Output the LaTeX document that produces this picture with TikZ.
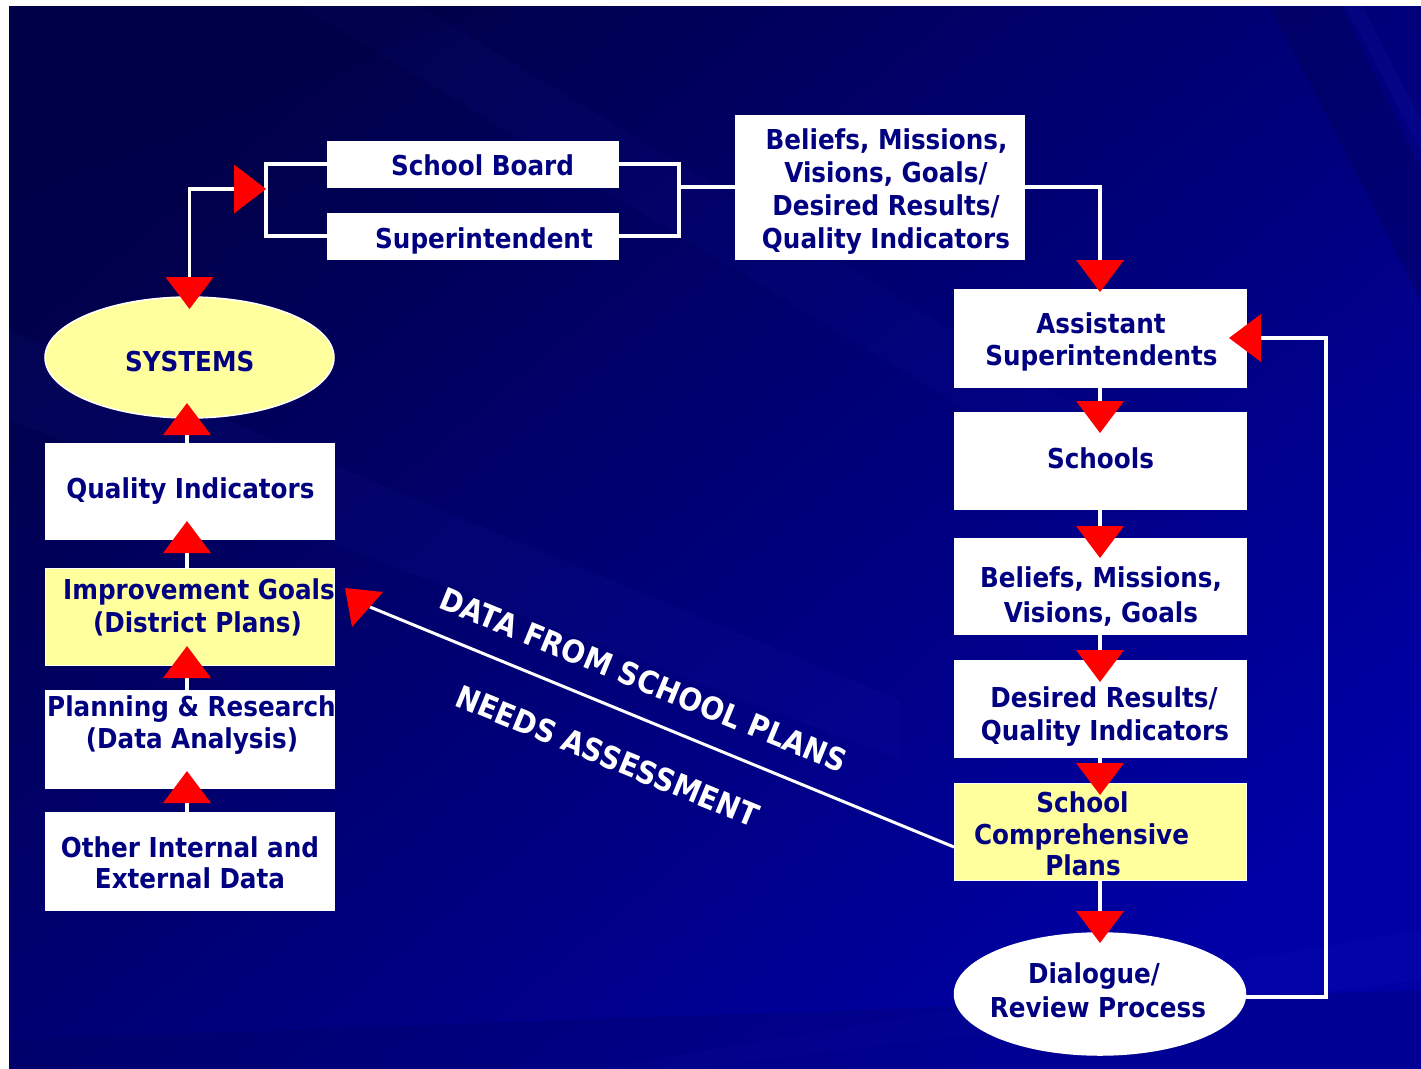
\documentclass[tikz,border=0pt]{standalone}
\usepackage{fontspec}
\newfontfamily\dfont{DejaVu Sans Condensed Bold}
\usetikzlibrary{arrows.meta,shapes.geometric,calc}
\definecolor{navy}{HTML}{000080}
\definecolor{pale}{HTML}{FFFF9E}
\definecolor{bgA}{HTML}{00004A}
\definecolor{bgB}{HTML}{0000A4}
\definecolor{bgL}{HTML}{3030D0}
\definecolor{bgD}{HTML}{000040}
\begin{document}
\begin{tikzpicture}[x=1pt,y=-1pt,
  wbox/.style={rectangle, fill=white, draw=white, line width=1pt, inner sep=0pt, outer sep=0pt},
  ybox/.style={rectangle, fill=pale, draw=white, line width=1pt, inner sep=0pt, outer sep=0pt},
  oval/.style={ellipse, draw=white, line width=1.5pt, inner sep=0pt, outer sep=0pt},
  wline/.style={draw=white, line width=3.5pt},
  redtip/.style={-{Triangle[width=48pt,length=32pt,color=red,line width=0pt]}},
  lbl/.style={font=\dfont\fontsize{27.4}{33}\selectfont, text=navy, anchor=base, inner sep=0pt},
  slanted/.style={font=\dfont\fontsize{31.2}{36}\selectfont, text=white, inner sep=0pt, rotate=-22.3}]
\useasboundingbox (0,0) rectangle (1421,1068);
% background
\fill[white] (0,0) rectangle (1421,1068);
\begin{scope}
\clip (9,6) rectangle (1421,1068);
\shade[top color=bgA, bottom color=bgB, shading angle=40] (9,6) rectangle (1421,1068);
\fill[bgL, opacity=0.07] (9,330) -- (9,420) -- (900,760) -- (900,700) -- cycle;
\fill[bgL, opacity=0.06] (300,6) -- (420,6) -- (1100,420) -- (1000,430) -- cycle;
\fill[bgD, opacity=0.25] (1270,6) -- (1340,6) -- (1421,170) -- (1421,300) -- cycle;
\fill[bgL, opacity=0.10] (1345,6) -- (1362,6) -- (1421,120) -- (1421,150) -- cycle;
\fill[bgL, opacity=0.07] (600,1068) -- (1421,930) -- (1421,980) -- (700,1068) -- cycle;
\fill[bgD, opacity=0.15] (9,1040) -- (1421,990) -- (1421,1068) -- (9,1068) -- cycle;
\fill[bgD, opacity=0.18] (9,6) -- (500,6) -- (9,200) -- cycle;
\end{scope}
% boxes
\node[wbox, minimum width=291pt, minimum height=46pt] (sb) at (472.5,164) {};
\node[wbox, minimum width=291pt, minimum height=46pt] (si) at (472.5,236) {};
\node[wbox, minimum width=289pt, minimum height=144pt] (bt) at (879.5,187) {};
\node[oval, fill=pale, minimum width=289pt, minimum height=121pt] (sys) at (189.5,357.5) {};
\node[wbox, minimum width=289pt, minimum height=96pt] (qi) at (189.5,491) {};
\node[ybox, minimum width=289pt, minimum height=97pt] (ig) at (189.5,616.5) {};
\node[wbox, minimum width=289pt, minimum height=98pt] (pr) at (189.5,739) {};
\node[wbox, minimum width=289pt, minimum height=98pt] (ot) at (189.5,861) {};
\node[wbox, minimum width=292pt, minimum height=98pt] (as) at (1100,338) {};
\node[wbox, minimum width=292pt, minimum height=97pt] (sc) at (1100,460.5) {};
\node[wbox, minimum width=292pt, minimum height=96pt] (bm) at (1100,586) {};
\node[wbox, minimum width=292pt, minimum height=97pt] (dr) at (1100,708.5) {};
\node[ybox, minimum width=292pt, minimum height=97pt] (cp) at (1100,831.5) {};
\node[oval, fill=white, minimum width=291pt, minimum height=122pt] (dl) at (1100,994) {};
% helper coordinates
\coordinate (brL) at (266,189);
\coordinate (brR) at (679,187);
\coordinate (rc) at (1326,338);
\coordinate (dg) at (370,607);
% bracket around School Board / Superintendent
\draw[wline] (sb.west) -- (sb.west -| brL) -- (si.west -| brL) -- (si.west);
\draw[wline] (sb.east) -- (sb.east -| brR) -- (si.east -| brR) -- (si.east);
\draw[wline] (brR) -- (bt.west);
% connectors
\draw[wline, {Triangle[width=49pt,length=32pt,color=red,line width=0pt]}-{Triangle[width=48pt,length=32pt,color=red,line width=0pt]}, shorten >=-12pt] (brL) -| (sys.north);
\draw[wline, redtip, shorten >=-3pt] (bt.east) -| (as.north);
\draw[wline, redtip, shorten >=-21pt] (as.south) -- (sc.north);
\draw[wline, redtip, shorten >=-20pt] (sc.south) -- (bm.north);
\draw[wline, redtip, shorten >=-22pt] (bm.south) -- (dr.north);
\draw[wline, redtip, shorten >=-12pt] (dr.south) -- (cp.north);
\draw[wline, redtip, shorten >=-10pt] (cp.south) -- (dl.north);
\draw[wline, redtip, shorten >=-17pt] ([yshift=-3pt]dl.east) -| (rc) -- (as.east);
\draw[wline, redtip, shorten >=-15pt] ([xshift=-2.5pt]qi.north) -- ([xshift=-2.5pt]sys.south);
\draw[wline, redtip, shorten >=-18pt] ([xshift=-2.5pt]ig.north) -- ([xshift=-2.5pt]qi.south);
\draw[wline, redtip, shorten >=-19pt] ([xshift=-2.5pt]pr.north) -- ([xshift=-2.5pt]ig.south);
\draw[wline, redtip, shorten >=-17pt] ([xshift=-2.5pt]ot.north) -- ([xshift=-2.5pt]pr.south);
\draw[wline, line width=3pt] ([yshift=-15.5pt]cp.west) -- (dg);
\fill[red] (345,588) -- (383,592) -- (352,627) -- cycle;
% labels
\node[lbl] (t-sb) at (482.5,175.5) {School Board};
\node[lbl] (t-si) at (484,248) {Superintendent};
\node[lbl] (t-bt1) at (886.5,149) {Beliefs, Missions,};
\node[lbl] (t-bt2) at (886,182) {Visions, Goals/};
\node[lbl] (t-bt3) at (886,215) {Desired Results/};
\node[lbl] (t-bt4) at (886,248) {Quality Indicators};
\node[lbl] (t-sys) at (189.7,371.5) {SYSTEMS};
\node[lbl] (t-qi) at (190.5,498) {Quality Indicators};
\node[lbl] (t-ig1) at (199,599) {Improvement Goals};
\node[lbl] (t-ig2) at (197.5,632) {(District Plans)};
\node[lbl] (t-pr1) at (191.5,716) {Planning \& Research};
\node[lbl] (t-pr2) at (192,748) {(Data Analysis)};
\node[lbl] (t-ot1) at (190,857) {Other Internal and};
\node[lbl] (t-ot2) at (190,888) {External Data};
\node[lbl] (t-as1) at (1101,333) {Assistant};
\node[lbl] (t-as2) at (1101.5,365) {Superintendents};
\node[lbl] (t-sc) at (1100.5,468) {Schools};
\node[lbl] (t-bm1) at (1101,587) {Beliefs, Missions,};
\node[lbl] (t-bm2) at (1101,622) {Visions, Goals};
\node[lbl] (t-dr1) at (1104,707) {Desired Results/};
\node[lbl] (t-dr2) at (1105,740) {Quality Indicators};
\node[lbl] (t-cp1) at (1082.5,812) {School};
\node[lbl] (t-cp2) at (1081.5,844) {Comprehensive};
\node[lbl] (t-cp3) at (1083,875) {Plans};
\node[lbl] (t-dl1) at (1094,983) {Dialogue/};
\node[lbl] (t-dl2) at (1098,1017) {Review Process};
\node[slanted] (t-data) at (643.5,680) {DATA FROM SCHOOL PLANS};
\node[slanted] (t-needs) at (607.5,756) {NEEDS ASSESSMENT};
\end{tikzpicture}
\end{document}
